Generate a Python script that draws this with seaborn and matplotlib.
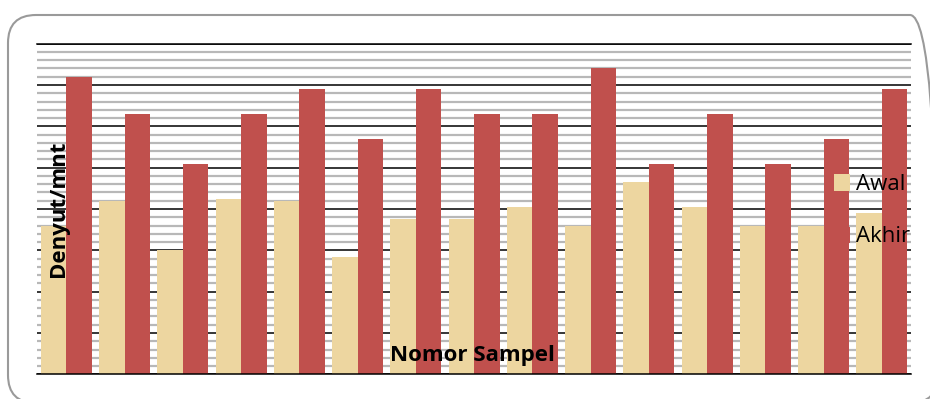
import matplotlib
matplotlib.use("Agg")
import matplotlib.pyplot as plt
from matplotlib.patches import FancyBboxPatch
from matplotlib.transforms import IdentityTransform
from matplotlib.ticker import MultipleLocator
import pandas as pd
import seaborn as sns

# Pulse rate (beats per minute) for each sample, before and after
sampel = [str(i) for i in range(1, 16)]
awal = [72, 84, 60, 85, 84, 57, 75, 75, 81, 72, 93, 81, 72, 72, 78]
akhir = [144, 126, 102, 126, 138, 114, 138, 126, 126, 148, 102, 126, 102, 114, 138]
kondisi = ["Awal", "Akhir"]
warna = ["#EDD6A0", "#C0504D"]

df = pd.DataFrame({
    "Sampel": sampel * 2,
    "Kondisi": [kondisi[0]] * len(awal) + [kondisi[1]] * len(akhir),
    "Denyut": awal + akhir,
})

sns.set_theme(style="white")
plt.rcParams["font.family"] = ["Open Sans", "DejaVu Sans"]
plt.rcParams["text.color"] = "black"

fig = plt.figure(figsize=(9.3, 3.99), dpi=100)
ax = fig.add_axes([0.0401, 0.0619, 0.9395, 0.8286])

sns.barplot(data=df, x="Sampel", y="Denyut", hue="Kondisi",
            palette=warna, width=0.876, gap=0, linewidth=0,
            saturation=1, errorbar=None, ax=ax)

ax.set_ylim(0, 160)
ax.yaxis.set_major_locator(MultipleLocator(20))
ax.yaxis.set_minor_locator(MultipleLocator(4))
ax.set_axisbelow(True)
ax.grid(which="minor", axis="y", color="#b8b8b8", linewidth=1.6)
ax.grid(which="major", axis="y", color="black", linewidth=1.1)
ax.grid(axis="x", visible=False)
ax.tick_params(which="both", left=False, bottom=False,
               labelleft=False, labelbottom=False)
for side in ["left", "right"]:
    ax.spines[side].set_visible(False)
for side in ["top", "bottom"]:
    ax.spines[side].set_color("black")
    ax.spines[side].set_linewidth(1.1)
ax.set_xlabel("")
ax.set_ylabel("")

# Axis titles drawn on top of the bars
ax.text(0.024, 0.5, "Denyut/mnt", transform=ax.transAxes, rotation=90,
        ha="center", va="center", fontsize=16, fontweight="bold",
        color="black", zorder=10)
ax.text(0.4975, 0.058, "Nomor Sampel", transform=ax.transAxes,
        ha="center", va="center", fontsize=16, fontweight="bold",
        color="black", zorder=10)

leg = ax.legend(loc="upper left", bbox_to_anchor=(0.912, 0.605), frameon=False,
                fontsize=16, borderpad=0, borderaxespad=0, handlelength=0.7,
                handleheight=0.75, handletextpad=0.3, labelspacing=1.4)
for t in leg.get_texts():
    t.set_color("black")

# Rounded chart-area border
frame = FancyBboxPatch((8, -4), 930, 388,
                       boxstyle="round,pad=0,rounding_size=28",
                       transform=IdentityTransform(), facecolor="none",
                       edgecolor="#9a9a9a", linewidth=1.5)
fig.patches.append(frame)

fig.savefig("out.png", dpi=100)
